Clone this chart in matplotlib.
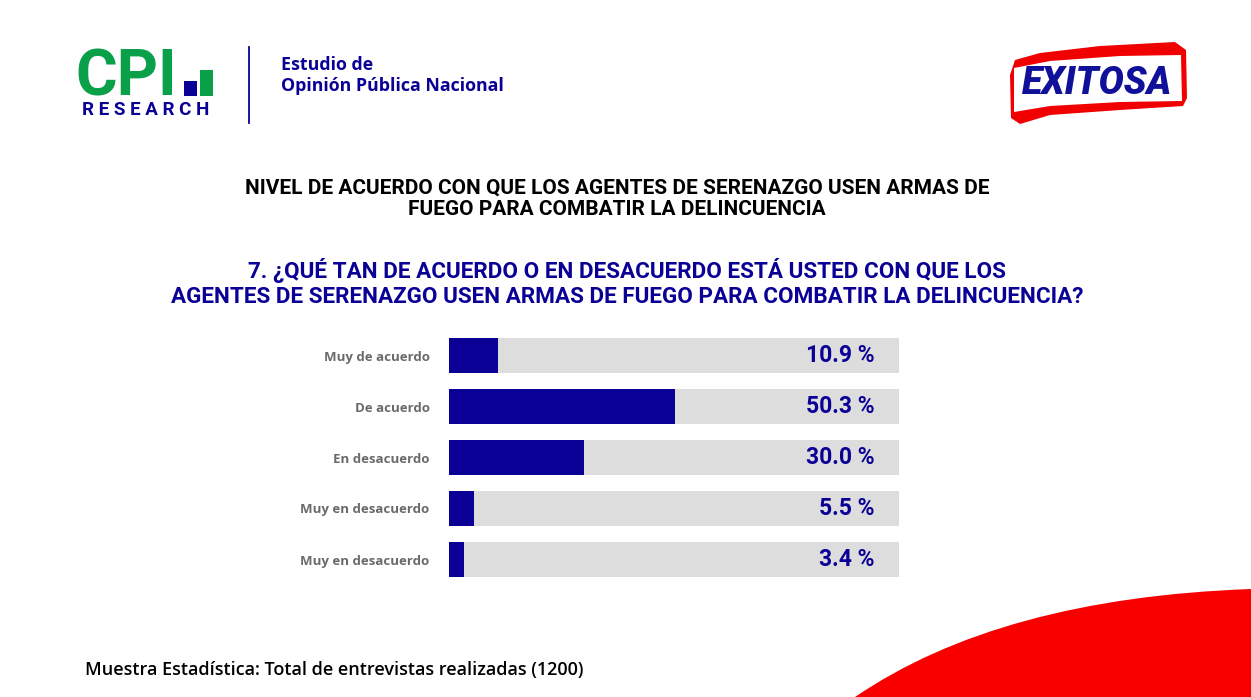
import matplotlib.pyplot as plt
from matplotlib.patches import Rectangle, PathPatch, Polygon
from matplotlib.path import Path

categorias = ['Muy de acuerdo', 'De acuerdo', 'En desacuerdo', 'Muy en desacuerdo', 'Muy en desacuerdo']
valores = [10.9, 50.3, 30.0, 5.5, 3.4]
etiquetas = ['10.9 %', '50.3 %', '30.0 %', '5.5 %', '3.4 %']

titulo = 'NIVEL DE ACUERDO CON QUE LOS AGENTES DE SERENAZGO USEN ARMAS DE\nFUEGO PARA COMBATIR LA DELINCUENCIA'
pregunta = ('7. ¿QUÉ TAN DE ACUERDO O EN DESACUERDO ESTÁ USTED CON QUE LOS\n'
            'AGENTES DE SERENAZGO USEN ARMAS DE FUEGO PARA COMBATIR LA DELINCUENCIA?')
pie = 'Muestra Estadística: Total de entrevistas realizadas (1200)'

NAVY = '#0a0096'
GREEN = '#0aa04a'
GREY = '#dddddd'

W, H = 1251, 697
fig = plt.figure(figsize=(W / 100, H / 100), dpi=100)
fig.patch.set_facecolor('white')

# fondo / decoracion en coordenadas de pixel
bg = fig.add_axes([0, 0, 1, 1])
bg.set_xlim(0, W)
bg.set_ylim(H, 0)
bg.axis('off')

# franja roja abajo a la derecha
verts = [(855, 697), (1000, 598), (1251, 589), (1251, 589), (1251, 697), (855, 697)]
codes = [Path.MOVETO, Path.CURVE3, Path.CURVE3, Path.LINETO, Path.LINETO, Path.CLOSEPOLY]
bg.add_patch(PathPatch(Path(verts, codes), facecolor='#f80000', edgecolor='none'))

# logo CPI
bg.text(75, 95, 'CPI', fontsize=46, fontweight='bold', color=GREEN, family='Roboto',
        ha='left', va='baseline')
bg.add_patch(Rectangle((184, 81), 13, 15, facecolor=NAVY, edgecolor='none'))
bg.add_patch(Rectangle((200, 70), 13, 26, facecolor=GREEN, edgecolor='none'))
bg.text(146, 110, 'R E S E A R C H', fontsize=13.5, fontweight='bold', color=NAVY,
        family='Roboto', ha='center', va='center')
bg.plot([249, 249], [47, 123], color=NAVY, lw=1.3)
bg.text(281, 65, 'Estudio de', fontsize=12.8, fontweight='bold', color=NAVY,
        family='Open Sans', ha='left', va='center')
bg.text(281, 86, 'Opinión Pública Nacional', fontsize=12.8, fontweight='bold', color=NAVY,
        family='Open Sans', ha='left', va='center')

# logo EXITOSA
bg.add_patch(Polygon([(1010, 75), (1015, 60), (1040, 53), (1100, 46), (1175, 42), (1186, 50),
                      (1187, 98), (1183, 106), (1120, 110), (1050, 115), (1020, 124), (1011, 118)],
                     closed=True, facecolor='#f00000', edgecolor='none'))
bg.add_patch(Polygon([(1014, 68), (1050, 61), (1120, 56), (1181, 55),
                      (1182, 101), (1120, 102), (1050, 106), (1014, 112)],
                     closed=True, facecolor='white', edgecolor='none'))
bg.text(1097, 83, 'EXITOSA', fontsize=27, fontweight='heavy', style='italic', color='#10109a',
        family='Roboto', ha='center', va='center')

# titulos
bg.text(617, 199, titulo, fontsize=15, fontweight='bold', color='black', family='Roboto',
        ha='center', va='center', linespacing=1.15)
bg.text(627, 283, pregunta, fontsize=16.2, fontweight='bold', color=NAVY, family='Roboto',
        ha='center', va='center', linespacing=1.15)

# pie
bg.text(85, 670, pie, fontsize=13, color='black', family='Open Sans', fontweight='semibold',
        ha='left', va='center')

# grafico de barras
ax = fig.add_axes([449 / W, 1 - 585 / H, 450 / W, 255 / H])
ax.set_xlim(0, 100)
ax.set_ylim(len(valores) - 0.5, -0.5)
pos = range(len(valores))
ax.barh(pos, [100] * len(valores), height=0.67, color=GREY, edgecolor='none')
ax.barh(pos, valores, height=0.67, color=NAVY, edgecolor='none')
for i, t in enumerate(etiquetas):
    ax.text(94.5, i, t, fontsize=16.5, fontweight='bold', color=NAVY, family='Roboto',
            ha='right', va='center')
ax.set_yticks(list(pos))
ax.set_yticklabels(categorias, fontsize=9.5, fontweight='bold', color='#6a6a6a', family='Open Sans')
ax.tick_params(axis='y', length=0, pad=14)
ax.set_xticks([])
for s in ax.spines.values():
    s.set_visible(False)
ax.patch.set_alpha(0)

fig.savefig('out.png', dpi=100)
